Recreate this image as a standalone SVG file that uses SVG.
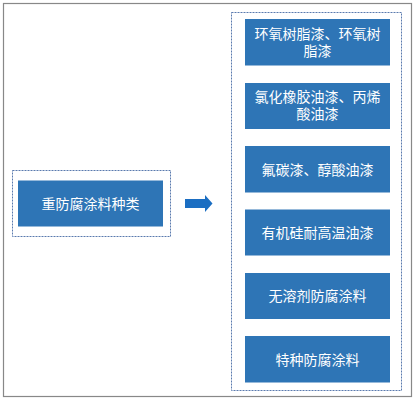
<svg xmlns="http://www.w3.org/2000/svg" width="418" height="401" viewBox="0 0 418 401">
<style>
.box{fill:#2E75B6;}
.grp{fill:none;stroke:#5A7AAE;stroke-width:1;stroke-dasharray:2,1;}
.t{fill:#FFFFFF;font-family:"Liberation Sans","Noto Sans CJK SC",sans-serif;font-size:14px;text-anchor:middle;}
</style>
<rect x="0" y="0" width="418" height="401" fill="#FFFFFF"/>
<rect x="3.5" y="3.5" width="408" height="393" fill="none" stroke="#888888" stroke-width="1.2"/>
<g id="left">
<rect class="grp" x="12.5" y="170.5" width="158" height="66"/>
<rect class="box" x="18" y="180.5" width="145" height="46"/>
<text class="t" x="90.5" y="208.5">重防腐涂料种类</text>
</g>
<g id="connectors">
<polygon points="185,199 205,199 205,195 212.5,203.5 205,212 205,208 185,208" fill="#1B6EC2"/>
</g>
<g id="right">
<rect class="grp" x="231.5" y="12.5" width="170" height="378"/>
</g>
<g id="n1">
<rect class="box" x="245" y="19" width="145" height="46.5"/>
<text class="t" x="317.5" y="38.5">环氧树脂漆、环氧树</text>
<text class="t" x="317.5" y="55.5">脂漆</text>
</g>
<g id="n2">
<rect class="box" x="245" y="83" width="145" height="46"/>
<text class="t" x="317.5" y="102">氯化橡胶油漆、丙烯</text>
<text class="t" x="317.5" y="119">酸油漆</text>
</g>
<g id="n3">
<rect class="box" x="245" y="146" width="145" height="46.5"/>
<text class="t" x="317.5" y="174.5">氟碳漆、醇酸油漆</text>
</g>
<g id="n4">
<rect class="box" x="245" y="209.5" width="145" height="46"/>
<text class="t" x="317.5" y="237.5">有机硅耐高温油漆</text>
</g>
<g id="n5">
<rect class="box" x="245" y="273" width="145" height="46"/>
<text class="t" x="317.5" y="301">无溶剂防腐涂料</text>
</g>
<g id="n6">
<rect class="box" x="245" y="336" width="145" height="46.5"/>
<text class="t" x="317.5" y="364.5">特种防腐涂料</text>
</g>
</svg>
